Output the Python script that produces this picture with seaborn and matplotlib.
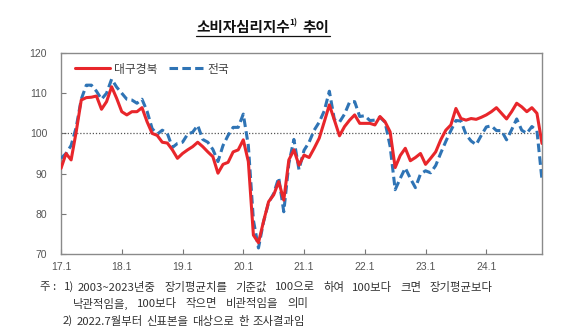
import numpy as np
import pandas as pd
import matplotlib
matplotlib.use("Agg")
import matplotlib.pyplot as plt
from matplotlib.lines import Line2D
import seaborn as sns

# ---- data ----
tick_labels = ["17.1", "18.1", "19.1", "20.1", "21.1", "22.1", "23.1", "24.1"]
years = list(range(2017, 2025))

daegu = [
    91.3, 95.0, 93.4, 100.4, 108.3, 108.9, 109.0, 109.3, 106.0, 107.9, 111.6, 108.7,   # 2017
    105.4, 104.6, 105.4, 105.4, 106.4, 102.9, 100.0, 99.5, 97.8, 97.6, 95.9, 93.8,     # 2018
    95.0, 95.9, 96.7, 97.8, 96.7, 95.4, 94.2, 90.1, 92.3, 92.8, 95.4, 95.9,            # 2019
    98.4, 93.0, 74.7, 72.8, 78.1, 83.0, 84.7, 88.0, 83.4, 93.4, 95.9, 92.1,            # 2020
    94.6, 94.0, 96.3, 98.8, 102.9, 107.1, 103.3, 99.4, 101.7, 103.3, 104.6, 102.5,     # 2021
    102.5, 102.5, 102.1, 104.2, 102.9, 100.4, 91.5, 94.5, 96.3, 93.2, 94.0, 95.0,      # 2022
    92.3, 93.8, 95.4, 98.4, 100.8, 102.1, 106.2, 103.7, 103.3, 103.7, 103.5, 104.0,    # 2023
    104.6, 105.4, 106.4, 105.0, 103.6, 105.4, 107.5, 106.6, 105.4, 106.4, 105.0, 97.5, # 2024
]
national = [
    93.8, 95.0, 97.0, 101.5, 108.5, 112.0, 112.0, 110.5, 108.5, 110.0, 113.5, 111.5,   # 2017
    110.0, 108.5, 108.3, 107.5, 108.5, 105.5, 101.2, 99.8, 100.8, 100.0, 96.5, 97.5,   # 2018
    97.8, 99.8, 100.3, 102.0, 98.5, 97.8, 96.0, 93.0, 97.0, 99.5, 101.5, 101.5,        # 2019
    104.8, 97.0, 78.4, 71.5, 78.0, 82.8, 85.0, 89.0, 80.5, 92.5, 98.5, 91.0,           # 2020
    95.8, 97.8, 100.8, 102.8, 105.6, 110.5, 103.4, 102.8, 104.8, 107.8, 107.9, 104.2,  # 2021
    104.4, 103.2, 103.3, 104.0, 102.8, 96.8, 86.0, 88.8, 91.4, 88.8, 86.5, 89.9,       # 2022
    90.7, 90.2, 92.0, 95.1, 98.0, 100.7, 103.2, 103.1, 99.7, 98.1, 97.2, 99.5,         # 2023
    101.6, 101.9, 100.7, 100.7, 98.4, 100.9, 103.6, 100.8, 100.0, 101.7, 100.7, 88.4,  # 2024
]
months = [f"{y}.{m}" for y in years for m in range(1, 13)]
idx = np.arange(len(months))

df_d = pd.DataFrame({"t": idx, "v": daegu})
df_n = pd.DataFrame({"t": idx, "v": national})

# ---- style ----
sns.set_theme(style="white")
CJK = ["Noto Sans CJK KR", "DejaVu Sans"]
plt.rcParams["font.family"] = CJK

W, H = 577, 336
fig = plt.figure(figsize=(W / 100, H / 100), dpi=100)
ax = fig.add_axes([61/W, 1-254/H, (542-61)/W, (254-53)/H])

RED = "#e8262b"
BLUE = "#2f74b5"
DASH = (0, (2.8, 1.4))

sns.lineplot(data=df_n, x="t", y="v", ax=ax, color=BLUE, lw=2.2,
             linestyle=DASH, zorder=3)
sns.lineplot(data=df_d, x="t", y="v", ax=ax, color=RED, lw=2.2, zorder=4)

ax.axhline(100, color="#555555", lw=0.9, ls=(0, (1, 1.5)), zorder=2)

ax.set_xlim(0, len(months) - 1)
ax.set_ylim(70, 120)
ax.set_yticks([70, 80, 90, 100, 110, 120])
ax.set_xticks(np.arange(0, len(months), 12))
ax.set_xticklabels(tick_labels)
ax.set_xlabel("")
ax.set_ylabel("")

for lab in ax.get_xticklabels() + ax.get_yticklabels():
    lab.set_fontfamily("Liberation Sans")
    lab.set_fontsize(7.5)
    lab.set_color("#555555")

ax.tick_params(axis="both", direction="in", length=3.5, width=0.8,
               color="#777777", left=True, bottom=True)
ax.tick_params(axis="x", pad=6)
ax.tick_params(axis="y", pad=10)
for s in ax.spines.values():
    s.set_color("#8a8a8a")
    s.set_linewidth(1.0)

handles = [Line2D([], [], color=RED, lw=2.2),
           Line2D([], [], color=BLUE, lw=2.2, linestyle=DASH)]
leg = ax.legend(handles, ["대구경북", "전국"], loc="center left",
                bbox_to_anchor=(0.008, 0.92), ncol=2, frameon=False,
                handlelength=2.9, handletextpad=0.4, columnspacing=0.9,
                prop={"family": CJK, "size": 8.5})
for t in leg.get_texts():
    t.set_color("#404040")

fig.canvas.draw()
renderer = fig.canvas.get_renderer()


def width_px(txt):
    return txt.get_window_extent(renderer).width


# ---- title (pieces, underlined) ----
title_y = 1 - 27/H
x0 = 196
t1 = fig.text(x0/W, title_y, "소비자심리지수", ha="left", va="center",
              fontsize=10.5, fontweight="bold", color="#111111", family=CJK)
x = x0 + width_px(t1)
t2 = fig.text(x/W, title_y + 4/H, "1)", ha="left", va="center",
              fontsize=6, fontweight="bold", color="#111111", family=CJK)
x += width_px(t2) + 5
t3 = fig.text(x/W, title_y, "추이", ha="left", va="center",
              fontsize=10.5, fontweight="bold", color="#111111", family=CJK)
x_end = x + width_px(t3)
fig.add_artist(Line2D([x0/W, x_end/W], [1-35.5/H, 1-35.5/H],
                      color="#111111", lw=0.9, transform=fig.transFigure))

# ---- footnotes (word-spaced like the original) ----
fn_kw = dict(fontsize=8.2, color="#333333", va="center", ha="left", family=CJK)


def justify_gap(words, x_start, x_end):
    tmp = [fig.text(0, 0, w, **fn_kw) for w in words]
    total = sum(width_px(t) for t in tmp)
    for t in tmp:
        t.remove()
    return (x_end - x_start - total) / (len(words) - 1)


def place_words(words, x_start, y_px, gap):
    xx = x_start
    for w in words:
        t = fig.text(xx/W, 1 - y_px/H, w, **fn_kw)
        xx += width_px(t) + gap
    return xx


line1 = ["2003~2023년중", "장기평균치를", "기준값", "100으로", "하여",
         "100보다", "크면", "장기평균보다"]
line2 = ["낙관적임을,", "100보다", "작으면", "비관적임을", "의미"]
line3 = ["2)", "2022.7월부터", "신표본을", "대상으로", "한", "조사결과임"]

fig.text(40/W, 1 - 287/H, "주 :", **fn_kw)
fig.text(64/W, 1 - 287/H, "1)", **fn_kw)

place_words(line1, 78, 287, justify_gap(line1, 78, 493))
place_words(line2, 73, 304, justify_gap(line2, 73, 308))
place_words(line3, 63, 321, justify_gap(line3, 63, 305))

fig.savefig("out.png", dpi=100)
